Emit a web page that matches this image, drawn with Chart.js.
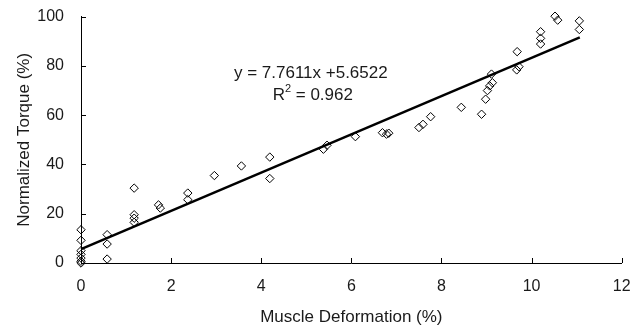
<!DOCTYPE html>
<html>
<head>
<meta charset="utf-8">
<script src="https://cdn.jsdelivr.net/npm/chart.js@4.4.1/dist/chart.umd.min.js"></script>
<style>
html,body{margin:0;padding:0;background:#fff;}
#wrap{width:641px;height:331px;position:relative;}
</style>
</head>
<body>
<div id="wrap"><canvas id="c" width="641" height="331"></canvas></div>
<script>
// Muscle deformation (%) values
const deformation = [0,0,0,0,0,0,0, 0.58,0.58,0.58, 1.18,1.18,1.18,1.18, 1.72,1.76, 2.37,2.37, 2.96, 3.56, 4.19,4.19, 5.38,5.46, 6.09, 6.69,6.78,6.83, 7.5,7.59,7.76, 8.44, 8.89, 8.98,9.02,9.07,9.13,9.11, 9.67,9.72,9.68, 10.2,10.2,10.2, 10.52,10.58, 11.06,11.06];
// Normalized torque (%) values
const torque = [13.5,9.2,5,3.5,2,0.7,0, 11.5,7.7,1.6, 30.4,19.6,18.2,16.5, 23.6,22.3, 28.4,25.7, 35.5, 39.4, 43,34.3, 46.2,47.8, 51.3, 52.9,52.3,52.7, 55,56.3,59.4, 63.2, 60.4, 66.5,70,71.9,73.2,76.7, 78.4,79.7,85.8, 93.9,91.2,88.9, 100.2,98.6, 98.3,94.8];
// Linear fit
const slope = 7.7611;
const intercept = 5.6522;
const fitX = [0, 11.07];
const equationText = "y = 7.7611x +5.6522";
const r2Text = "0.962";
const xTicks = [0,2,4,6,8,10,12];
const yTicks = [0,20,40,60,80,100];

const points = deformation.map((x,i)=>({x:x,y:torque[i]}));
const fitLine = fitX.map(x=>({x:x,y:slope*x+intercept}));

const FONT = "'Liberation Sans', Arial, sans-serif";
const TXT = '#1a1a1a';

const innerTicks = {
  id:'innerTicks',
  afterDatasetsDraw(chart){
    const ctx = chart.ctx;
    const xs = chart.scales.x, ys = chart.scales.y;
    ctx.save();
    ctx.strokeStyle = '#000';
    ctx.lineWidth = 1;
    ctx.beginPath();
    xs.ticks.forEach((t,i)=>{
      const px = Math.round(xs.getPixelForTick(i))+0.5;
      ctx.moveTo(px, ys.bottom); ctx.lineTo(px, ys.bottom-5);
    });
    ys.ticks.forEach((t,i)=>{
      const py = Math.round(ys.getPixelForTick(i))+0.5;
      ctx.moveTo(xs.left, py); ctx.lineTo(xs.left+5, py);
    });
    ctx.stroke();
    // equation text
    ctx.fillStyle = TXT;
    ctx.font = "17px " + FONT;
    ctx.textAlign = 'center';
    ctx.textBaseline = 'middle';
    const cx = xs.getPixelForValue(5.1);
    ctx.fillText(equationText, cx, ys.getPixelForValue(77.2));
    // R^2 line
    const y2 = ys.getPixelForValue(68.2);
    const a = "R", b = " = " + r2Text;
    ctx.font = "17px " + FONT;
    const wa = ctx.measureText(a).width, wb = ctx.measureText(b).width;
    ctx.font = "11px " + FONT;
    const ws = ctx.measureText("2").width;
    const total = wa+ws+wb;
    let x0 = cx - total/2 + 2;
    ctx.textAlign = 'left';
    ctx.font = "17px " + FONT;
    ctx.fillText(a, x0, y2);
    ctx.font = "11px " + FONT;
    ctx.fillText("2", x0+wa, y2-6);
    ctx.font = "17px " + FONT;
    ctx.fillText(b, x0+wa+ws, y2);
    ctx.restore();
  }
};

new Chart(document.getElementById('c'), {
  type:'scatter',
  data:{
    datasets:[
      {
        label:'Data',
        data: points,
        pointStyle:'rectRot',
        pointRadius:4.2,
        pointBorderWidth:1,
        pointBorderColor:'#000',
        pointBackgroundColor:'rgba(255,255,255,0)',
        showLine:false,
        clip:false,
        order:2
      },
      {
        label:'Fit',
        type:'line',
        data: fitLine,
        borderColor:'#000',
        borderWidth:2.5,
        pointRadius:0,
        fill:false,
        clip:false,
        order:1
      }
    ]
  },
  options:{
    responsive:false,
    animation:false,
    devicePixelRatio:1,
    layout:{autoPadding:false, padding:{left:0,top:16.7,right:19.3,bottom:0}},
    plugins:{legend:{display:false},tooltip:{enabled:false}},
    scales:{
      x:{
        type:'linear', min:0, max:12,
        afterBuildTicks(s){ s.ticks = xTicks.map(v=>({value:v})); },
        afterFit(s){ s.height = 68; s.paddingLeft = 0; s.paddingRight = 0; },
        grid:{display:true, drawOnChartArea:false, drawTicks:false},
        border:{display:true, color:'#000', width:1},
        ticks:{padding:14, color:TXT, font:{family:FONT, size:16}},
        title:{display:true, text:'Muscle Deformation (%)', color:TXT, font:{family:FONT,size:17}, padding:{top:0,bottom:3}}
      },
      y:{
        type:'linear', min:0, max:100,
        afterBuildTicks(s){ s.ticks = yTicks.map(v=>({value:v})); },
        afterFit(s){ s.width = 81; s.paddingTop = 0; s.paddingBottom = 0; },
        grid:{display:true, drawOnChartArea:false, drawTicks:false},
        border:{display:true, color:'#000', width:1},
        ticks:{padding:17, color:TXT, font:{family:FONT, size:16}},
        title:{display:true, text:'Normalized Torque (%)', color:TXT, font:{family:FONT,size:17}, padding:{top:14,bottom:0}}
      }
    }
  },
  plugins:[innerTicks]
});
</script>
</body>
</html>
